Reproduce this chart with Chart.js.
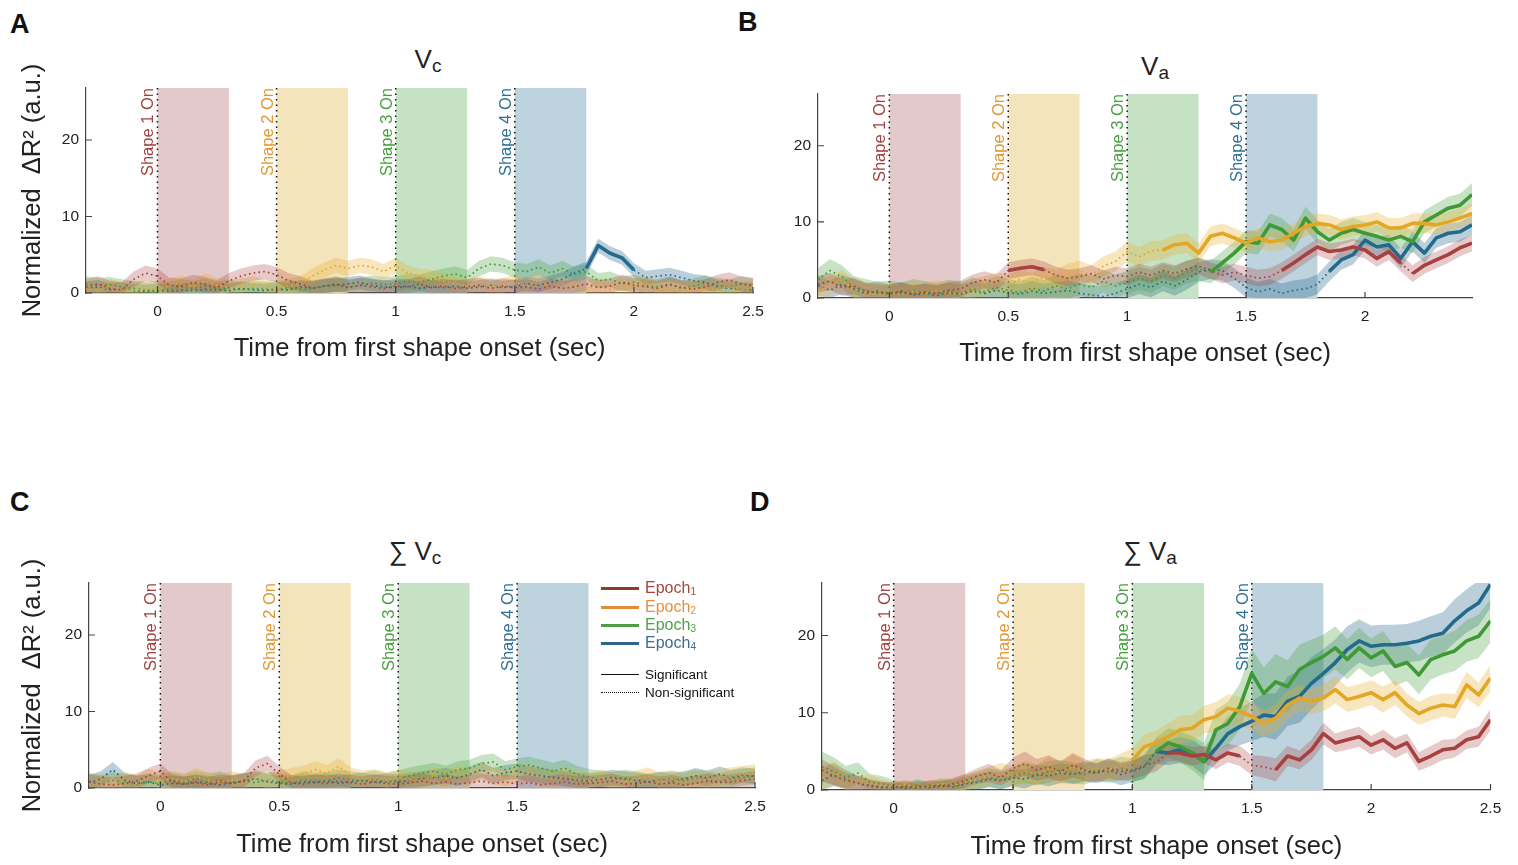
<!DOCTYPE html>
<html lang="en">
<head>
<meta charset="UTF-8">
<title>Normalized ΔR² by epoch</title>
<script src="https://cdn.jsdelivr.net/npm/chart.js@4"></script>
<style>
  body {
    margin: 0;
    background: #fff;
    width: 1518px;
    height: 865px;
    position: relative;
    overflow: hidden;
    font-family: Arial, "Liberation Sans", Helvetica, sans-serif;
    color: #222;
  }
  canvas { position: absolute; }
  .letter {
    position: absolute;
    font-size: 27px;
    font-weight: bold;
    line-height: 1;
    color: #111;
  }
  .ptitle {
    position: absolute;
    font-size: 26px;
    line-height: 1;
    white-space: nowrap;
    transform: translateX(-50%);
    color: #222;
  }
  .ptitle .s { font-size: 19px; position: relative; top: 4px; }
  .leg {
    position: absolute;
    left: 601px;
    height: 18px;
    display: flex;
    align-items: center;
    white-space: nowrap;
  }
  .leg .ln { width: 38px; margin-right: 6px; }
  .leg .ep { font-size: 16px; }
  .leg .ep sub { font-size: 10px; vertical-align: -2px; }
  .leg .sg { font-size: 13.5px; color: #111; }
</style>
</head>
<body>

<div class="letter" style="left:10px; top:11px">A</div>
<div class="letter" style="left:738px; top:9px">B</div>
<div class="letter" style="left:10px; top:489px">C</div>
<div class="letter" style="left:750px; top:489px">D</div>

<div class="ptitle" style="left:428px; top:46px">V<span class="s">c</span></div>
<div class="ptitle" style="left:1155px; top:53px">V<span class="s">a</span></div>
<div class="ptitle" style="left:415px; top:538px">∑ V<span class="s">c</span></div>
<div class="ptitle" style="left:1150px; top:538px">∑ V<span class="s">a</span></div>

<canvas id="cA" width="790" height="330" style="left:0px; top:40px"></canvas>
<canvas id="cB" width="740" height="300" style="left:760px; top:76px"></canvas>
<canvas id="cC" width="790" height="340" style="left:0px; top:525px"></canvas>
<canvas id="cD" width="758" height="300" style="left:760px; top:565px"></canvas>

<div class="leg" style="top:579px"><span class="ln" style="border-top:3px solid #8e3a2e"></span><span class="ep" style="color:#a2463d">Epoch<sub>1</sub></span></div>
<div class="leg" style="top:598px"><span class="ln" style="border-top:3px solid #df8c3c"></span><span class="ep" style="color:#e6913b">Epoch<sub>2</sub></span></div>
<div class="leg" style="top:616px"><span class="ln" style="border-top:3px solid #4e9c44"></span><span class="ep" style="color:#4fa14a">Epoch<sub>3</sub></span></div>
<div class="leg" style="top:634px"><span class="ln" style="border-top:3px solid #2f6688"></span><span class="ep" style="color:#3a6f8f">Epoch<sub>4</sub></span></div>
<div class="leg" style="top:665px"><span class="ln" style="border-top:1px solid #111"></span><span class="sg">Significant</span></div>
<div class="leg" style="top:683px"><span class="ln" style="border-top:1px dotted #111"></span><span class="sg">Non-significant</span></div>

<script>
// time axis (sec from first shape onset)
const time = [
  -0.3, -0.25, -0.2, -0.15, -0.1, -0.05,
  0, 0.05, 0.1, 0.15, 0.2, 0.25, 0.3, 0.35, 0.4, 0.45,
  0.5, 0.55, 0.6, 0.65, 0.7, 0.75, 0.8, 0.85, 0.9, 0.95,
  1, 1.05, 1.1, 1.15, 1.2, 1.25, 1.3, 1.35, 1.4, 1.45,
  1.5, 1.55, 1.6, 1.65, 1.7, 1.75, 1.8, 1.85, 1.9, 1.95,
  2, 2.05, 2.1, 2.15, 2.2, 2.25, 2.3, 2.35, 2.4, 2.45,
  2.5
];

const epochNames = ['Epoch1', 'Epoch2', 'Epoch3', 'Epoch4'];
const shapeOn = [0, 0.5, 1, 1.5];
const shapeLen = 0.3;
const shapeNames = ['Shape 1 On', 'Shape 2 On', 'Shape 3 On', 'Shape 4 On'];
const xTicksFull = [0, 0.5, 1, 1.5, 2, 2.5];
const xTicksB = [0, 0.5, 1, 1.5, 2];
const yTicks = [0, 10, 20];

// ---- A: Vc ----
const vcE1 = [
  0.8, 1.2, 0.6, 0.4, 1.8, 2.6,
  2.2, 1.0, 0.9, 1.4, 1.1, 0.7, 1.6, 2.2, 2.6, 2.8,
  2.4, 1.6, 1.2, 0.6, 0.9, 1.1, 0.7, 1.0, 0.8, 0.6,
  0.9, 0.8, 1.2, 0.7, 0.9, 0.6, 0.8, 1.0, 0.6, 0.9,
  0.7, 0.8, 0.5, 0.9, 0.6, 0.8, 1.2, 0.7, 0.9, 1.4,
  1.0, 0.8, 0.6, 1.1, 0.7, 0.5, 0.8, 1.4, 1.7, 1.2,
  1.0
];
const vcE2 = [
  0.6, 0.4, 0.8, 0.5, 0.3, 0.6,
  0.5, 0.9, 1.3, 0.8, 1.6, 1.0, 0.7, 0.9, 1.2, 0.8,
  0.6, 0.9, 1.2, 2.2, 3.0, 3.6, 3.2, 3.6, 3.4, 2.8,
  3.6, 2.6, 2.2, 2.0, 1.6, 1.2, 0.9, 1.2, 0.8, 1.0,
  1.4, 0.9, 1.6, 0.7, 1.2, 0.8, 0.6, 0.9, 0.5, 1.0,
  0.8, 1.3, 0.6, 0.5, 0.4, 0.7, 0.5, 0.6, 0.8, 0.5,
  0.6
];
const vcE3 = [
  1.2, 1.0, 1.1, 0.8, 0.6, 0.4,
  0.3, 0.5, 0.8, 0.6, 0.9, 0.5, 0.7, 0.4, 0.6, 0.5,
  0.4, 0.7, 0.5, 0.6, 0.9, 1.2, 0.8, 1.0, 1.3, 1.1,
  1.2, 1.5, 1.4, 1.8, 2.2, 2.5, 2.0, 3.2, 3.8, 3.6,
  3.0, 2.8, 3.4, 2.6, 3.2, 2.4, 2.8, 1.6, 1.8, 1.2,
  1.4, 1.0, 0.8, 1.2, 0.6, 0.9, 1.3, 1.0, 0.8, 1.2,
  0.9
];
const vcE4 = [
  0.6, 0.8, 0.4, 0.5, 0.3, 0.2,
  0.3, 0.2, 0.4, 0.3, 0.5, 0.4, 0.3, 0.6, 0.4, 0.3,
  0.5, 0.4, 0.8, 0.6, 0.9, 1.0, 1.2, 1.4, 1.0, 0.8,
  0.7, 0.9, 0.6, 0.8, 0.7, 0.9, 0.6, 0.8, 1.0, 0.7,
  0.9, 1.2, 1.0, 1.4, 1.8, 2.6, 3.2, 6.2, 5.2, 4.6,
  3.0, 2.0, 2.2, 2.4, 2.0, 1.6, 1.4, 0.8, 0.6, 0.5,
  0.4
];
const semVc = [1.0, 1.0, 1.0, 0.9];
const sigVc = [[], [], [], [[1.82, 1.98]]];

// ---- B: Va ----
const vaE1 = [
  1.8, 2.2, 1.4, 1.6, 0.9, 0.7,
  0.6, 0.9, 0.5, 0.8, 0.6, 1.0, 1.2, 2.0, 2.4, 2.0,
  3.6, 3.9, 4.1, 3.7, 3.0, 2.6, 2.8, 3.2, 2.5, 3.0,
  2.8, 3.4, 3.0, 3.6, 3.2, 3.8, 4.2, 3.6, 3.0, 3.4,
  3.0, 2.6, 2.8, 3.6, 4.6, 5.7, 6.7, 6.1, 6.3, 6.7,
  6.3, 5.2, 6.1, 4.6, 3.2, 4.3, 5.0, 5.7, 6.6, 7.2
];
const vaE2 = [
  1.0, 1.6, 2.4, 1.2, 0.8, 0.5,
  0.7, 0.4, 0.9, 0.6, 1.0, 0.7, 0.5, 1.2, 1.6, 2.0,
  1.8, 2.4, 2.0, 2.8, 2.4, 3.2, 3.6, 3.0, 4.2, 4.8,
  6.1, 5.4, 6.2, 6.3, 7.0, 7.2, 5.9, 8.1, 8.5, 7.9,
  7.2, 7.9, 7.4, 7.6, 8.5, 9.4, 9.8, 9.6, 9.0, 9.4,
  9.6, 10.0, 9.2, 9.2, 9.8, 9.8, 9.6, 10.0, 10.5, 11.1
];
const vaE3 = [
  2.4, 3.6, 2.8, 1.4, 1.0, 0.6,
  0.8, 0.5, 1.0, 0.7, 0.5, 0.9, 0.6, 1.2, 0.8, 1.4,
  1.0, 0.7, 1.3, 0.9, 1.6, 1.2, 1.8, 1.4, 2.2, 1.6,
  2.0, 2.6, 2.2, 3.0, 2.6, 3.4, 3.8, 3.4, 4.6, 5.9,
  7.4, 7.2, 9.6, 9.0, 7.6, 10.5, 8.7, 7.6, 8.5, 9.0,
  8.5, 8.1, 7.6, 8.1, 7.4, 10.0, 10.9, 11.8, 12.2, 13.6
];
const vaE4 = [
  1.6, 1.0, 1.8, 1.2, 0.6, 0.9,
  0.5, 0.8, 0.4, 0.6, 0.3, 0.7, 0.5, 0.9, 0.6, 1.0,
  0.7, 0.5, 0.9, 0.6, 0.8, 1.0, 0.6, 0.4, 0.2, 0.6,
  1.2, 1.8, 1.4, 2.2, 1.6, 2.4, 3.4, 3.8, 3.6, 2.6,
  1.4, 0.8, 1.2, 0.6, 1.0, 1.2, 1.8, 3.5, 5.0, 5.7,
  7.6, 6.7, 7.0, 5.2, 7.4, 5.9, 7.9, 8.5, 8.7, 9.6
];
const semVa = [1.1, 1.3, 1.5, 1.3];
const sigVa = [
  [[0.5, 0.66], [1.66, 2.16], [2.21, 2.46]],
  [[1.13, 2.46]],
  [[1.37, 2.46]],
  [[1.83, 2.46]]
];

// ---- C: sum Vc ----
const svcE1 = [
  0.8, 0.5, 0.4, 0.6, 0.9, 1.6,
  2.2, 0.8, 0.5, 0.7, 0.4, 0.8, 0.6, 0.9, 2.6, 3.2,
  1.8, 0.7, 0.5, 0.8, 0.6, 0.9, 0.7, 0.5, 0.8, 0.6,
  0.5, 0.7, 0.9, 0.6, 0.8, 0.5, 0.7, 0.9, 0.6, 0.8,
  0.5, 0.7, 0.4, 0.6, 0.8, 0.5, 0.6, 0.7, 0.9, 0.5,
  0.6, 0.8, 0.5, 0.7, 0.4, 0.6, 0.9, 0.7, 0.8, 1.0,
  1.2
];
const svcE2 = [
  0.5, 0.7, 0.4, 1.0, 0.6, 1.4,
  0.9, 1.2, 0.8, 1.5, 1.0, 0.7, 1.1, 0.8, 1.3, 0.9,
  1.2, 1.5, 1.8, 2.4, 1.9, 2.8, 1.6, 1.2, 1.4, 1.0,
  1.3, 1.1, 0.9, 1.6, 1.2, 1.8, 1.4, 2.2, 1.6, 1.3,
  1.8, 2.0, 1.4, 1.2, 1.6, 1.1, 0.9, 1.3, 1.0, 0.8,
  1.2, 1.6, 0.9, 1.1, 0.8, 1.2, 1.0, 1.4, 1.6, 1.8,
  2.0
];
const svcE3 = [
  0.9, 0.6, 1.0, 0.7, 0.5, 0.8,
  0.6, 1.0, 0.7, 1.2, 0.8, 1.1, 0.6, 0.9, 0.7, 1.0,
  0.8, 0.6, 1.1, 0.9, 1.0, 1.3, 1.1, 0.9, 1.2, 0.8,
  1.2, 1.6, 1.9, 2.2, 1.8, 2.4, 2.6, 3.2, 3.4, 2.4,
  2.8, 3.0, 2.6, 2.2, 2.6, 1.8, 1.4, 1.2, 1.0, 1.3,
  1.1, 0.8, 1.0, 1.2, 0.9, 1.3, 1.1, 0.8, 1.2, 1.4,
  1.6
];
const svcE4 = [
  0.7, 1.2, 2.4, 1.0, 0.6, 0.8,
  0.4, 0.6, 0.5, 0.8, 0.6, 0.4, 0.7, 0.9, 1.2, 0.8,
  0.6, 0.5, 0.8, 0.7, 0.9, 0.6, 0.8, 1.0, 0.7, 0.9,
  0.8, 1.0, 1.2, 1.4, 1.6, 1.3, 1.8, 2.4, 1.6, 2.0,
  2.2, 1.8, 1.6, 1.4, 1.2, 1.0, 0.9, 1.1, 1.4, 1.2,
  1.0, 0.8, 1.1, 0.9, 1.2, 1.6, 1.3, 1.8, 1.4, 1.7,
  1.5
];
const semSvc = [1.0, 1.1, 1.1, 1.0];
const sigSvc = [[], [], [], []];

// ---- D: sum Va ----
const svaE1 = [
  2.6, 1.8, 1.2, 0.9, 0.6, 0.4,
  0.3, 0.5, 0.2, 0.6, 0.4, 0.8, 1.2, 1.8, 2.2, 1.6,
  2.8, 3.4, 2.6, 3.0, 2.4, 3.2, 2.6, 2.2, 2.8, 2.4,
  2.6, 3.2, 3.6, 4.8, 4.8, 4.4, 4.6, 3.9, 4.8, 4.4,
  3.2, 3.0, 2.6, 4.4, 3.9, 5.2, 7.3, 6.1, 6.5, 6.9,
  5.8, 6.5, 5.4, 6.1, 3.7, 4.4, 5.2, 5.4, 6.5, 6.9,
  9.1
];
const svaE2 = [
  1.6, 2.2, 1.2, 0.8, 1.0, 0.6,
  0.4, 0.7, 0.3, 0.5, 0.8, 0.6, 1.0, 1.4, 1.8, 2.2,
  1.8, 2.4, 2.0, 2.8, 2.2, 3.0, 2.4, 2.8, 2.6, 3.2,
  3.9, 5.6, 6.1, 6.9, 7.8, 8.0, 9.1, 9.5, 10.6, 10.2,
  9.5, 8.6, 9.3, 11.0, 11.9, 11.5, 11.9, 13.0, 11.7, 12.1,
  12.6, 11.7, 12.6, 11.0, 9.9, 10.6, 11.0, 10.8, 13.6, 12.3,
  14.5
];
const svaE3 = [
  3.0, 2.4, 1.6, 2.2, 1.0, 0.8,
  0.5, 0.3, 0.6, 0.4, 0.7, 0.5, 0.9, 1.2, 1.6, 1.3,
  1.8, 2.2, 1.9, 2.4, 2.6, 2.2, 2.0, 2.6, 2.3, 2.8,
  2.6, 3.0, 5.0, 6.1, 5.6, 4.8, 3.7, 7.8, 8.6, 10.8,
  15.1, 12.5, 14.0, 13.4, 15.6, 16.5, 17.3, 18.4, 16.9, 18.4,
  17.1, 18.0, 16.0, 16.5, 14.9, 16.9, 17.5, 18.0, 19.3, 19.9,
  21.9
];
const svaE4 = [
  1.2, 2.0, 1.4, 0.8, 0.5, 0.3,
  0.4, 0.2, 0.5, 0.3, 0.6, 0.4, 0.8, 1.0, 1.4, 1.2,
  1.6, 1.4, 2.0, 1.8, 2.2, 2.0, 2.4, 2.2, 2.6, 2.0,
  2.4, 3.0, 5.0, 4.8, 5.2, 4.8, 3.7, 5.4, 7.3, 8.2,
  8.9, 9.7, 9.5, 11.5, 12.1, 13.8, 15.1, 16.5, 18.2, 19.3,
  18.6, 18.8, 18.8, 19.0, 19.3, 19.9, 20.3, 21.9, 23.2, 24.2,
  26.6
];
const semSvaE1 = [
  1.4, 1.2, 1.0, 0.9, 0.8, 0.7,
  0.6, 0.7, 0.6, 0.7, 0.7, 0.8, 0.9, 1.0, 1.2, 1.0,
  1.4, 1.6, 1.4, 1.5, 1.3, 1.6, 1.4, 1.2, 1.3, 1.2,
  1.2, 1.3, 1.2, 1.1, 1.1, 1.2, 1.1, 1.2, 1.2, 1.3,
  1.3, 1.4, 1.5, 1.3, 1.2, 1.3, 1.4, 1.2, 1.3, 1.3,
  1.2, 1.3, 1.3, 1.2, 1.2, 1.3, 1.3, 1.2, 1.2, 1.3,
  1.4
];
const semSvaE2 = [
  1.6, 1.5, 1.2, 1.0, 0.9, 0.8,
  0.6, 0.7, 0.6, 0.7, 0.8, 0.8, 1.0, 1.1, 1.2, 1.3,
  1.3, 1.4, 1.3, 1.5, 1.4, 1.6, 1.4, 1.3, 1.4, 1.5,
  1.5, 1.6, 1.6, 1.7, 1.8, 1.7, 1.8, 1.9, 1.8, 1.9,
  1.8, 1.7, 1.8, 1.8, 1.7, 1.6, 1.7, 1.8, 1.6, 1.6,
  1.6, 1.7, 1.6, 1.5, 1.5, 1.6, 1.5, 1.6, 1.7, 1.6,
  1.7
];
const semSvaE3 = [
  2.0, 1.8, 1.5, 1.4, 1.1, 1.0,
  0.8, 0.7, 0.8, 0.7, 0.8, 0.9, 1.0, 1.1, 1.2, 1.2,
  1.2, 1.3, 1.3, 1.4, 1.3, 1.4, 1.3, 1.4, 1.4, 1.5,
  1.5, 1.6, 1.8, 1.9, 2.0, 2.2, 2.4, 2.6, 2.8, 3.0,
  3.2, 3.4, 3.6, 3.4, 3.2, 3.0, 2.8, 2.8, 2.6, 2.6,
  2.5, 2.6, 2.5, 2.4, 2.5, 2.6, 2.5, 2.6, 2.7, 2.8,
  2.8
];
const semSvaE4 = [
  1.6, 1.5, 1.2, 1.0, 0.8, 0.7,
  0.6, 0.6, 0.7, 0.6, 0.7, 0.8, 0.9, 1.0, 1.0, 1.1,
  1.1, 1.2, 1.2, 1.3, 1.3, 1.2, 1.3, 1.3, 1.4, 1.4,
  1.4, 1.5, 1.6, 1.6, 1.7, 1.7, 1.8, 2.0, 2.2, 2.4,
  2.6, 2.8, 3.0, 3.2, 3.4, 3.4, 3.2, 3.0, 3.0, 2.8,
  2.7, 2.6, 2.6, 2.5, 2.6, 2.6, 2.7, 2.8, 2.8, 2.9,
  3.0
];
const sigSva = [
  [[1.13, 1.47], [1.62, 2.51]],
  [[0.98, 2.51]],
  [[1.08, 2.51]],
  [[1.12, 2.51]]
];

// colours
const lineColors = ['#a8403f', '#e4a625', '#3f9a36', '#246a8d'];
const bandColors = ['rgba(168,64,63,0.28)', 'rgba(232,176,52,0.32)', 'rgba(80,165,70,0.32)', 'rgba(40,105,140,0.32)'];
const shapeFill = ['#e3c9ca', '#f4e4bb', '#c6e2c4', '#bdd3dd'];
const shapeInk = ['#a0403c', '#e3962e', '#45a03d', '#2f6f93'];

const FONT = 'Arial, "Liberation Sans", Helvetica, sans-serif';
Chart.defaults.font.family = FONT;
Chart.defaults.color = '#222';

function isSig(c, ranges) {
  const m = (c.p0.parsed.x + c.p1.parsed.x) / 2;
  return ranges.some(r => m >= r[0] && m <= r[1]);
}

function buildDatasets(vals, sems, sigs) {
  const ds = [];
  vals.forEach((v, k) => {
    const e = i => Array.isArray(sems[k]) ? sems[k][i] : sems[k];
    ds.push({
      label: epochNames[k] + ' upper',
      data: v.map((y, i) => ({ x: time[i], y: y + e(i) })),
      fill: '+1', backgroundColor: bandColors[k],
      borderColor: 'rgba(0,0,0,0)', borderWidth: 1, pointRadius: 0, order: 2
    });
    ds.push({
      label: epochNames[k] + ' lower',
      data: v.map((y, i) => ({ x: time[i], y: Math.max(0, y - e(i)) })),
      fill: false, borderColor: 'rgba(0,0,0,0)', borderWidth: 1, pointRadius: 0, order: 2
    });
  });
  vals.forEach((v, k) => {
    ds.push({
      label: epochNames[k],
      data: v.map((y, i) => ({ x: time[i], y })),
      fill: false,
      borderColor: lineColors[k],
      borderWidth: 1.7,
      borderDash: [1.6, 3.2],
      borderJoinStyle: 'round',
      pointRadius: 0,
      order: 1,
      segment: {
        borderDash: c => isSig(c, sigs[k]) ? [] : [1.6, 3.2],
        borderWidth: c => isSig(c, sigs[k]) ? 3.6 : 1.7
      }
    });
  });
  return ds;
}

// shaded shape windows, onset lines, labels, inward ticks
const decor = {
  id: 'decor',
  beforeDatasetsDraw(chart) {
    const { ctx, chartArea: a, scales: { x, y } } = chart;
    const y0 = y.getPixelForValue(0);
    ctx.save();
    shapeOn.forEach((t, i) => {
      const x0 = x.getPixelForValue(t);
      const x1 = x.getPixelForValue(t + shapeLen);
      ctx.fillStyle = shapeFill[i];
      ctx.fillRect(x0, a.top, x1 - x0, y0 - a.top);
    });
    ctx.strokeStyle = '#111';
    ctx.lineWidth = 1.5;
    ctx.setLineDash([1.5, 4]);
    shapeOn.forEach(t => {
      const px = x.getPixelForValue(t);
      ctx.beginPath();
      ctx.moveTo(px, a.top);
      ctx.lineTo(px, y0);
      ctx.stroke();
    });
    ctx.setLineDash([]);
    ctx.font = '16.5px ' + FONT;
    ctx.textAlign = 'right';
    ctx.textBaseline = 'alphabetic';
    shapeOn.forEach((t, i) => {
      ctx.save();
      ctx.translate(x.getPixelForValue(t) - 4, a.top);
      ctx.rotate(-Math.PI / 2);
      ctx.fillStyle = shapeInk[i];
      ctx.fillText(shapeNames[i], 0, 0);
      ctx.restore();
    });
    ctx.restore();
  },
  afterDraw(chart) {
    const { ctx, chartArea: a, scales: { x, y } } = chart;
    ctx.save();
    ctx.strokeStyle = '#444';
    ctx.lineWidth = 1.2;
    ctx.beginPath();
    x.ticks.forEach(tk => {
      const px = x.getPixelForValue(tk.value);
      ctx.moveTo(px, a.bottom);
      ctx.lineTo(px, a.bottom - 6);
    });
    y.ticks.forEach(tk => {
      const py = y.getPixelForValue(tk.value);
      ctx.moveTo(a.left, py);
      ctx.lineTo(a.left + 6, py);
    });
    ctx.stroke();
    ctx.restore();
  }
};

const panels = [
  { id: 'cA', vals: [vcE1, vcE2, vcE3, vcE4], sems: semVc, sigs: sigVc, xMax: 2.5, xTicks: xTicksFull, yTitle: true,
    g: { padTop: 48, padRight: 37, yW: 86, xH: 77, tpb: 5.4 } },
  { id: 'cB', vals: [vaE1, vaE2, vaE3, vaE4], sems: semVa, sigs: sigVa, xMax: 2.45, xTicks: xTicksB, yTitle: false,
    g: { padTop: 18, padRight: 28, yW: 58, xH: 78, tpb: 6.4 } },
  { id: 'cC', vals: [svcE1, svcE2, svcE3, svcE4], sems: semSvc, sigs: sigSvc, xMax: 2.5, xTicks: xTicksFull, yTitle: true,
    g: { padTop: 58, padRight: 35, yW: 89, xH: 77, tpb: 4.4 } },
  { id: 'cD', vals: [svaE1, svaE2, svaE3, svaE4], sems: [semSvaE1, semSvaE2, semSvaE3, semSvaE4], sigs: sigSva, xMax: 2.5, xTicks: xTicksFull, yTitle: false,
    g: { padTop: 18, padRight: 27.5, yW: 62, xH: 75, tpb: 2.4 } }
];

panels.forEach(p => {
  new Chart(document.getElementById(p.id), {
    type: 'line',
    data: { datasets: buildDatasets(p.vals, p.sems, p.sigs) },
    options: {
      responsive: false,
      animation: false,
      events: [],
      layout: { padding: { left: 0, top: p.g.padTop, right: p.g.padRight, bottom: 0 } },
      plugins: { legend: { display: false }, tooltip: { enabled: false } },
      scales: {
        x: {
          type: 'linear',
          min: -0.3,
          max: p.xMax,
          grid: { display: false, drawTicks: false },
          border: { display: true, color: '#444', width: 1.2 },
          ticks: { padding: 9, font: { size: 15.5 }, color: '#222', maxRotation: 0, autoSkip: false, callback: v => String(v) },
          afterBuildTicks: s => { s.ticks = p.xTicks.map(value => ({ value })); },
          afterFit: s => { s.height = p.g.xH; },
          title: { display: true, text: 'Time from first shape onset (sec)', font: { size: 25.5 }, color: '#222', padding: { top: 0, bottom: p.g.tpb } }
        },
        y: {
          min: 0,
          max: 26.8,
          grid: { display: false, drawTicks: false },
          border: { display: true, color: '#444', width: 1.2 },
          ticks: { padding: 7, font: { size: 15.5 }, color: '#222' },
          afterBuildTicks: s => { s.ticks = yTicks.map(value => ({ value })); },
          afterFit: s => { s.width = p.g.yW; },
          title: { display: p.yTitle, text: 'Normalized  ΔR² (a.u.)', font: { size: 25.5 }, color: '#222', padding: { top: 18, bottom: 0 } }
        }
      }
    },
    plugins: [decor]
  });
});
</script>
</body>
</html>
